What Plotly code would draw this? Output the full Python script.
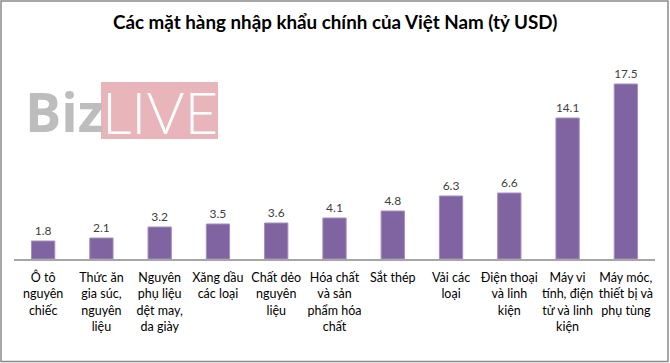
import plotly.graph_objects as go

categories = [
    "Ô tô<br>nguyên<br>chiếc",
    "Thức ăn<br>gia súc,<br>nguyên<br>liệu",
    "Nguyên<br>phụ liệu<br>dệt may,<br>da giày",
    "Xăng dầu<br>các loại",
    "Chất dẻo<br>nguyên<br>liệu",
    "Hóa chất<br>và sản<br>phẩm hóa<br>chất",
    "Sắt thép",
    "Vải các<br>loại",
    "Điện thoại<br>và linh<br>kiện",
    "Máy vi<br>tính, điện<br>tử và linh<br>kiện",
    "Máy móc,<br>thiết bị và<br>phụ tùng",
]
values = [1.8, 2.1, 3.2, 3.5, 3.6, 4.1, 4.8, 6.3, 6.6, 14.1, 17.5]
value_labels = ["1.8", "2.1", "3.2", "3.5", "3.6", "4.1", "4.8", "6.3", "6.6", "14.1", "17.5"]
title_text = "Các mặt hàng nhập khẩu chính của Việt Nam (tỷ USD)"

W, H = 670, 363
ML, MR, MT, MB = 14, 15, 59, 104
PW, PH = W - ML - MR, H - MT - MB


def px(x):
    return (x - ML) / PW


def py(y):
    return 1 - (y - MT) / PH


FONT = "Lato, 'Open Sans', sans-serif"

fig = go.Figure(
    go.Bar(
        x=categories,
        y=values,
        text=value_labels,
        textposition="outside",
        textfont=dict(family=FONT, size=12, color="#404040"),
        marker=dict(color="#8064A2", line=dict(color="#a48fc0", width=1)),
        cliponaxis=False,
        hoverinfo="skip",
    )
)

fig.update_layout(
    width=W,
    height=H,
    margin=dict(l=ML, r=MR, t=MT, b=MB, autoexpand=False),
    paper_bgcolor="white",
    plot_bgcolor="white",
    bargap=0.6,
    showlegend=False,
    font=dict(family=FONT, color="black"),
    xaxis=dict(
        showline=True,
        linecolor="#a6a6a6",
        linewidth=2,
        ticks="",
        tickfont=dict(family=FONT, size=12.5, color="black"),
        ticklabelstandoff=6,
        showgrid=False,
        fixedrange=True,
        automargin=False,
    ),
    yaxis=dict(
        range=[0, 20],
        visible=False,
        showgrid=False,
        fixedrange=True,
        automargin=False,
    ),
    annotations=[
        dict(
            text="<b>" + title_text + "</b>",
            xref="paper", yref="paper",
            x=px(335), y=py(22),
            xanchor="center", yanchor="middle",
            showarrow=False,
            font=dict(family=FONT, size=18.8, color="black"),
        ),
        dict(
            text="<b>Biz</b>",
            xref="paper", yref="paper",
            x=px(23), y=py(111),
            xanchor="left", yanchor="middle",
            showarrow=False,
            font=dict(family="'Open Sans', sans-serif", size=54, color="#bdbdbd"),
        ),
        dict(
            text="LIVE",
            xref="paper", yref="paper",
            x=px(160), y=py(111),
            xanchor="center", yanchor="middle",
            showarrow=False,
            font=dict(family="Lato, sans-serif", size=58, color="white", weight=300),
        ),
    ],
    shapes=[
        dict(
            type="rect", xref="paper", yref="paper",
            x0=px(101), x1=px(218), y0=py(139), y1=py(82),
            fillcolor="#e8b6ba", line=dict(width=0), layer="below",
        ),
        dict(
            type="rect", xref="paper", yref="paper",
            x0=px(1), x1=px(668), y0=py(361.5), y1=py(1),
            fillcolor="rgba(0,0,0,0)", line=dict(color="#8a8a8a", width=1.5),
        ),
    ],
)

fig.write_html(
    "out.html",
    config={"displayModeBar": False},
    post_script="document.body.style.margin='0';",
)
